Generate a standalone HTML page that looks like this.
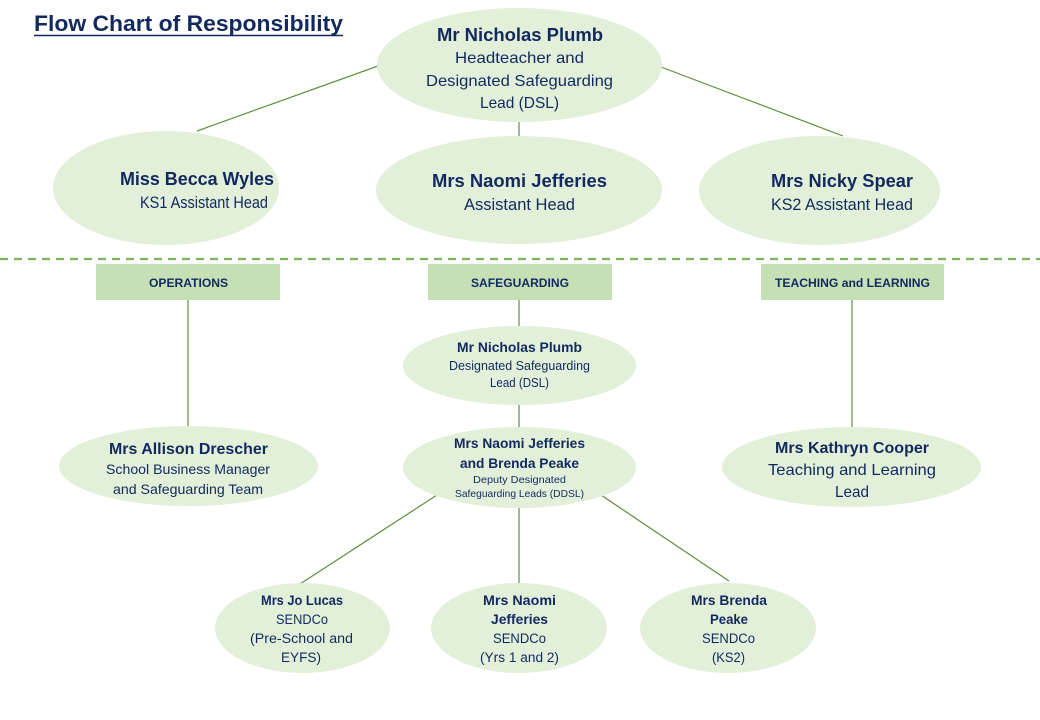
<!DOCTYPE html>
<html><head><meta charset="utf-8"><style>
html,body{margin:0;padding:0;background:#fff;}
svg{display:block;}
text{font-family:"Liberation Sans",sans-serif;fill:#12295f;}
.b{font-weight:bold;}
</style></head><body>
<svg width="1040" height="720" viewBox="0 0 1040 720" xmlns="http://www.w3.org/2000/svg">
<!-- connectors -->
<g stroke="#5f8f3e" stroke-width="1.2" fill="none">
<line x1="378" y1="66" x2="197" y2="131"/>
<line x1="519" y1="121" x2="519" y2="137"/>
<line x1="661" y1="67" x2="843" y2="136"/>
<line x1="188" y1="300" x2="188" y2="427"/>
<line x1="519" y1="300" x2="519" y2="327"/>
<line x1="519" y1="404" x2="519" y2="428"/>
<line x1="852" y1="300" x2="852" y2="428"/>
<line x1="437" y1="495" x2="300" y2="584"/>
<line x1="519" y1="507" x2="519" y2="584"/>
<line x1="601" y1="495" x2="729" y2="581"/>
</g>
<line x1="0" y1="259" x2="1040" y2="259" stroke="#7db35c" stroke-width="2.2" stroke-dasharray="8,6"/>

<!-- title -->
<text x="34" y="31" class="b" font-size="22" textLength="309" lengthAdjust="spacingAndGlyphs">Flow Chart of Responsibility</text>
<line x1="34" y1="35.5" x2="343" y2="35.5" stroke="#12295f" stroke-width="1.6"/>

<!-- ellipses -->
<g fill="#e2efd9">
<ellipse cx="519.5" cy="65" rx="142.5" ry="57"/>
<ellipse cx="166" cy="188" rx="113" ry="57"/>
<ellipse cx="519" cy="190" rx="143" ry="54"/>
<ellipse cx="819.5" cy="190.5" rx="120.5" ry="54.5"/>
<ellipse cx="188.5" cy="466" rx="129.5" ry="40"/>
<ellipse cx="519.5" cy="365.5" rx="116.5" ry="39.5"/>
<ellipse cx="519.5" cy="467.5" rx="116.5" ry="40.5"/>
<ellipse cx="851.5" cy="467" rx="129.5" ry="40"/>
<ellipse cx="302.5" cy="628" rx="87.5" ry="45"/>
<ellipse cx="519" cy="628" rx="88" ry="45"/>
<ellipse cx="728" cy="628" rx="88" ry="45"/>
</g>
<g fill="#c5e0b4">
<rect x="96" y="264" width="184" height="36"/>
<rect x="428" y="264" width="184" height="36"/>
<rect x="761" y="264" width="183" height="36"/>
</g>

<!-- top node -->
<text x="437" y="41" class="b" font-size="18" textLength="166" lengthAdjust="spacingAndGlyphs">Mr Nicholas Plumb</text>
<text x="455" y="63" font-size="16" textLength="129" lengthAdjust="spacingAndGlyphs">Headteacher and</text>
<text x="426" y="86" font-size="16" textLength="187" lengthAdjust="spacingAndGlyphs">Designated Safeguarding</text>
<text x="480" y="108" font-size="16" textLength="79" lengthAdjust="spacingAndGlyphs">Lead (DSL)</text>

<!-- level 2 -->
<text x="120" y="185" class="b" font-size="18" textLength="154" lengthAdjust="spacingAndGlyphs">Miss Becca Wyles</text>
<text x="140" y="208" font-size="16.5" textLength="128" lengthAdjust="spacingAndGlyphs">KS1 Assistant Head</text>
<text x="432" y="187" class="b" font-size="18" textLength="175" lengthAdjust="spacingAndGlyphs">Mrs Naomi Jefferies</text>
<text x="464" y="210" font-size="16.5" textLength="111" lengthAdjust="spacingAndGlyphs">Assistant Head</text>
<text x="771" y="187" class="b" font-size="18" textLength="142" lengthAdjust="spacingAndGlyphs">Mrs Nicky Spear</text>
<text x="771" y="210" font-size="16.5" textLength="142" lengthAdjust="spacingAndGlyphs">KS2 Assistant Head</text>

<!-- headers -->
<text x="149" y="287" class="b" font-size="12" textLength="79" lengthAdjust="spacingAndGlyphs">OPERATIONS</text>
<text x="471" y="287" class="b" font-size="12" textLength="98" lengthAdjust="spacingAndGlyphs">SAFEGUARDING</text>
<text x="775" y="287" class="b" font-size="12" textLength="155" lengthAdjust="spacingAndGlyphs">TEACHING and LEARNING</text>

<!-- safeguarding column -->
<text x="457" y="352" class="b" font-size="13.5" textLength="125" lengthAdjust="spacingAndGlyphs">Mr Nicholas Plumb</text>
<text x="449" y="370" font-size="12.5" textLength="141" lengthAdjust="spacingAndGlyphs">Designated Safeguarding</text>
<text x="490" y="387" font-size="12.5" textLength="59" lengthAdjust="spacingAndGlyphs">Lead (DSL)</text>

<text x="454" y="448" class="b" font-size="14" textLength="131" lengthAdjust="spacingAndGlyphs">Mrs Naomi Jefferies</text>
<text x="460" y="468" class="b" font-size="14" textLength="119" lengthAdjust="spacingAndGlyphs">and Brenda Peake</text>
<text x="473" y="483" font-size="10.5" textLength="93" lengthAdjust="spacingAndGlyphs">Deputy Designated</text>
<text x="455" y="497" font-size="10.5" textLength="129" lengthAdjust="spacingAndGlyphs">Safeguarding Leads (DDSL)</text>

<!-- operations -->
<text x="109" y="454" class="b" font-size="16" textLength="159" lengthAdjust="spacingAndGlyphs">Mrs Allison Drescher</text>
<text x="106" y="474" font-size="14" textLength="164" lengthAdjust="spacingAndGlyphs">School Business Manager</text>
<text x="113" y="494" font-size="14" textLength="150" lengthAdjust="spacingAndGlyphs">and Safeguarding Team</text>

<!-- teaching -->
<text x="775" y="453" class="b" font-size="16" textLength="154" lengthAdjust="spacingAndGlyphs">Mrs Kathryn Cooper</text>
<text x="768" y="475" font-size="16" textLength="168" lengthAdjust="spacingAndGlyphs">Teaching and Learning</text>
<text x="835" y="497" font-size="16" textLength="34" lengthAdjust="spacingAndGlyphs">Lead</text>

<!-- bottom row -->
<text x="261" y="605" class="b" font-size="13.5" textLength="82" lengthAdjust="spacingAndGlyphs">Mrs Jo Lucas</text>
<text x="276" y="624" font-size="13.5" textLength="52" lengthAdjust="spacingAndGlyphs">SENDCo</text>
<text x="250" y="643" font-size="13.5" textLength="103" lengthAdjust="spacingAndGlyphs">(Pre-School and</text>
<text x="281" y="662" font-size="13.5" textLength="40" lengthAdjust="spacingAndGlyphs">EYFS)</text>

<text x="483" y="605" class="b" font-size="13.5" textLength="73" lengthAdjust="spacingAndGlyphs">Mrs Naomi</text>
<text x="491" y="624" class="b" font-size="13.5" textLength="57" lengthAdjust="spacingAndGlyphs">Jefferies</text>
<text x="493" y="643" font-size="13.5" textLength="53" lengthAdjust="spacingAndGlyphs">SENDCo</text>
<text x="480" y="662" font-size="13.5" textLength="79" lengthAdjust="spacingAndGlyphs">(Yrs 1 and 2)</text>

<text x="691" y="605" class="b" font-size="13.5" textLength="76" lengthAdjust="spacingAndGlyphs">Mrs Brenda</text>
<text x="710" y="624" class="b" font-size="13.5" textLength="38" lengthAdjust="spacingAndGlyphs">Peake</text>
<text x="702" y="643" font-size="13.5" textLength="53" lengthAdjust="spacingAndGlyphs">SENDCo</text>
<text x="712" y="662" font-size="13.5" textLength="33" lengthAdjust="spacingAndGlyphs">(KS2)</text>
</svg>
</body></html>
